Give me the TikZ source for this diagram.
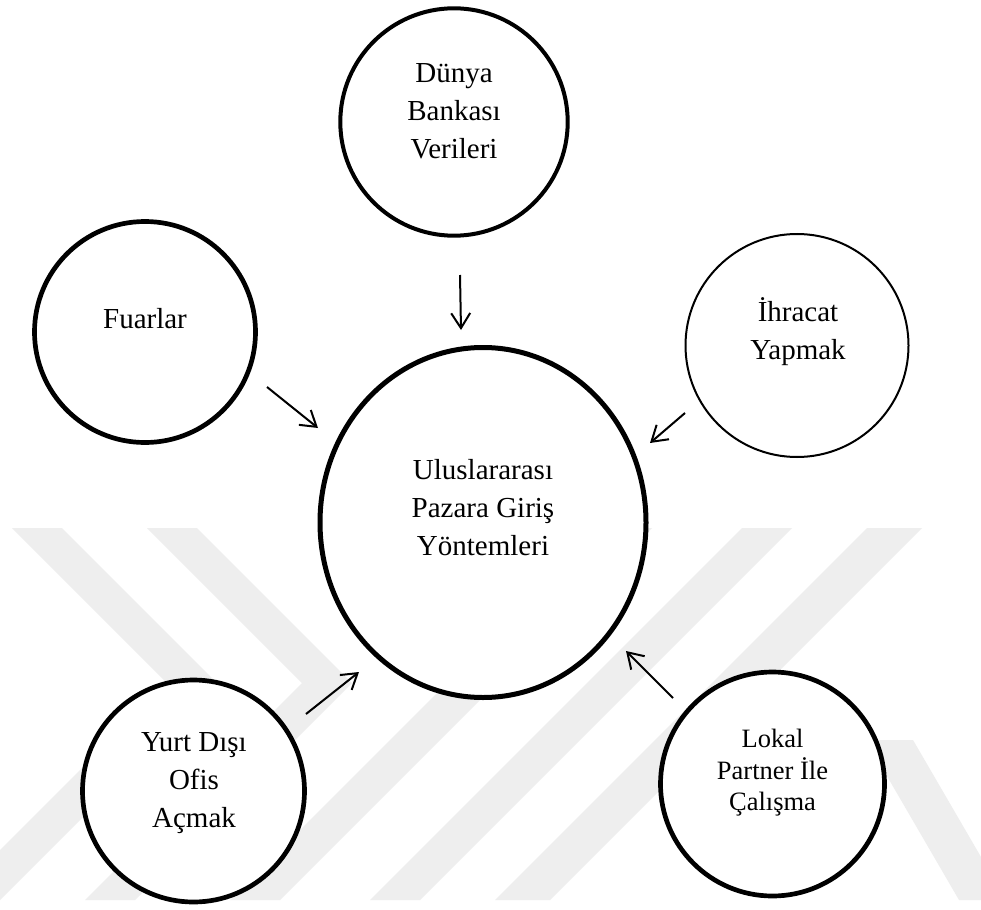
\documentclass[tikz,border=0pt]{standalone}
\usepackage{fontspec}
\setmainfont{Liberation Serif}
\usetikzlibrary{arrows.meta,shapes.geometric}
\definecolor{wm}{RGB}{238,238,238}
\newcommand{\sa}{\rule[-11.4pt]{0pt}{38pt}}
\newcommand{\sbb}{\rule[-9.3pt]{0pt}{31pt}}
\tikzset{
  bubble/.style={circle, draw=black, fill=white, line width=4.5pt, inner sep=0pt},
  txtA/.style={align=center, inner sep=0pt, font=\fontsize{29}{38}\selectfont},
  txtB/.style={align=center, inner sep=0pt, font=\fontsize{26.5}{31}\selectfont},
  arr/.style={line width=2pt, -{Straight Barb[length=15pt,width=19pt]}},
  band/.style={fill=wm, draw=none}
}
\begin{document}
\begin{tikzpicture}[x=1pt,y=-1pt]
\useasboundingbox (0,0) rectangle (981,909);
\fill[white] (0,0) rectangle (981,909);
% watermark
\begin{scope}
\clip (0,0) rectangle (981,909);
\fill[band] (12,528) -- (62,528) -- (217,683) -- (0,900) -- (-50,900) -- (167,683) -- cycle;
\fill[band] (147,528) -- (197,528) -- (352,683) -- (135,900) -- (85,900) -- (302,683) -- cycle;
\fill[band] (602,528) -- (652,528) -- (280,900) -- (230,900) -- cycle;
\fill[band] (742,528) -- (792,528) -- (420,900) -- (370,900) -- cycle;
\fill[band] (867,528) -- (922,528) -- (550,900) -- (495,900) -- cycle;
\fill[band] (866,740) -- (913,740) -- (1006,900) -- (959,900) -- cycle;
\end{scope}
% bubbles
\node[bubble, line width=4pt, minimum size=227.4pt] (dunya) at (454,122) {};
\node[bubble, line width=4.7pt, minimum size=221pt] (fuar) at (145,332) {};
\node[bubble, line width=2pt, minimum size=223pt] (ihr) at (797,345.5) {};
\node[bubble, ellipse, line width=5pt, minimum width=326pt, minimum height=350pt] (cent) at (483,522.5) {};
\node[bubble, line width=4.7pt, minimum size=222pt] (yurt) at (193.5,791) {};
\node[bubble, line width=4.7pt, minimum size=224pt] (lokal) at (772.5,784) {};
% texts
\node[txtA] (dunyaT) at (454,113.4) {Dünya\sa\\Bankası\sa\\Verileri\sa};
\node[txtA] (fuarT) at (145,320.4) {Fuarlar\sa};
\node[txtA] (ihrT) at (798,332.4) {İhracat\sa\\Yapmak\sa};
\node[txtA] (centT) at (483,509.4) {Uluslararası\sa\\Pazara Giriş\sa\\Yöntemleri\sa};
\node[txtA] (yurtT) at (194,781.4) {Yurt Dışı\sa\\Ofis\sa\\Açmak\sa};
\node[txtB] (lokalT) at (772.5,772.8) {Lokal\sbb\\Partner İle\sbb\\Çalışma\sbb};
% arrows
\coordinate (a1s) at (460,275); \coordinate (a1e) at (461,330);
\coordinate (a2s) at (267,387); \coordinate (a2e) at (318,428);
\coordinate (a3s) at (685,413); \coordinate (a3e) at (650,443);
\coordinate (a4s) at (306,714); \coordinate (a4e) at (359,672);
\coordinate (a5s) at (673,698); \coordinate (a5e) at (626,651);
\draw[arr] (a1s) -- (a1e);
\draw[arr] (a2s) -- (a2e);
\draw[arr] (a3s) -- (a3e);
\draw[arr] (a4s) -- (a4e);
\draw[arr] (a5s) -- (a5e);
\end{tikzpicture}
\end{document}
